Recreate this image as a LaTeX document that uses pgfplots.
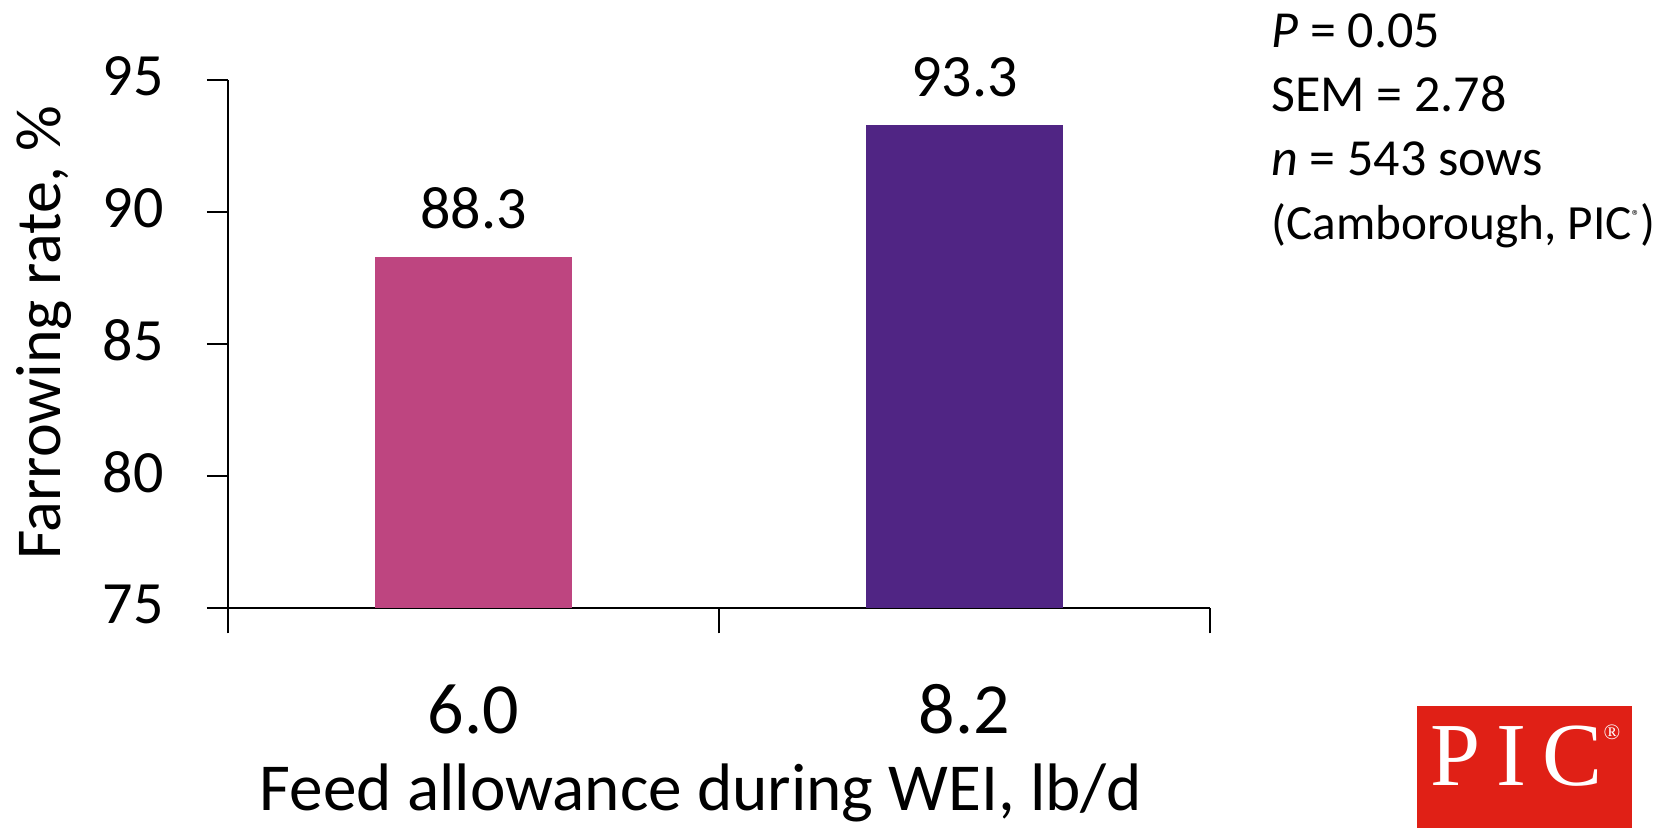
\documentclass[border=0pt]{standalone}
\usepackage{fontspec}
\setmainfont{Carlito}
\newfontfamily\logoserif{Liberation Serif}
\usepackage{pgfplots}
\pgfplotsset{compat=1.18}
\definecolor{barpink}{RGB}{190,69,128}
\definecolor{barpurple}{RGB}{80,37,132}
\definecolor{picred}{RGB}{224,32,22}
\begin{document}
\begin{tikzpicture}
\begin{axis}[
  at={(114pt,110pt)}, anchor=south west,
  scale only axis, width=491pt, height=264pt,
  xmin=-0.5, xmax=1.5, ymin=75, ymax=95,
  axis x line*=bottom, axis y line*=left,
  axis line style={line width=1pt, black, -},
  xtick={0,1}, xticklabels={6.0,8.2},
  minor xtick={-0.5,0.5,1.5},
  ytick={75,80,85,90,95},
  tick align=outside,
  major tick length=10.6pt, minor tick length=12.7pt,
  tick style={line width=1pt, black},
  major x tick style={draw=none},
  /pgf/number format/assume math mode=true,
  yticklabel style={font=\fontsize{30}{30}\selectfont, anchor=east, xshift=-18pt, yshift=2pt},
  xticklabel style={font=\fontsize{36}{36}\selectfont, anchor=base, yshift=-52pt},
  ylabel={Farrowing rate, \%},
  ylabel style={font=\fontsize{32}{32}\selectfont, at={(axis description cs:-0.171,0.521)}, anchor=base},
  xlabel={Feed allowance during WEI, lb/d},
  xlabel style={font=\fontsize{33.6}{33.6}\selectfont, at={(axis description cs:0.4817,0)}, anchor=base, yshift=-101.5pt},
  ybar, bar width=0.4, bar shift=0pt,
  nodes near coords,
  nodes near coords style={font=\fontsize{30}{30}\selectfont, anchor=base, yshift=14pt, text=black,
    /pgf/number format/fixed, /pgf/number format/precision=1, /pgf/number format/fixed zerofill},
  clip=false,
]
\addplot[fill=barpink, draw=none] coordinates {(0,88.3)};
\addplot[fill=barpurple, draw=none] coordinates {(1,93.3)};
\end{axis}
\begin{scope}[every node/.style={anchor=base west, inner sep=0pt, font=\fontsize{26}{32}\selectfont}]
\node at (635.5pt,390pt) {\textit{P} = 0.05};
\node at (635.5pt,358pt) {SEM = 2.78};
\node at (635.5pt,326pt) {\textit{n} = 543 sows};
\node[font=\fontsize{24.6}{32}\selectfont] at (635.5pt,294pt) {(Camborough, PIC\textsuperscript{\fontsize{8}{8}\selectfont ®})};
\end{scope}
\fill[picred] (708.5pt,0pt) rectangle (816pt,61pt);
\node[white, inner sep=0pt, font=\logoserif\fontsize{45}{45}\selectfont] at (758.5pt,36pt) {P\hspace{8pt}I\hspace{8pt}C};
\node[white, inner sep=0pt, font=\logoserif\fontsize{11}{11}\selectfont] at (806pt,48pt) {®};
\pgfresetboundingbox
\path (0,0) rectangle (832.5pt,414pt);
\end{tikzpicture}
\end{document}
